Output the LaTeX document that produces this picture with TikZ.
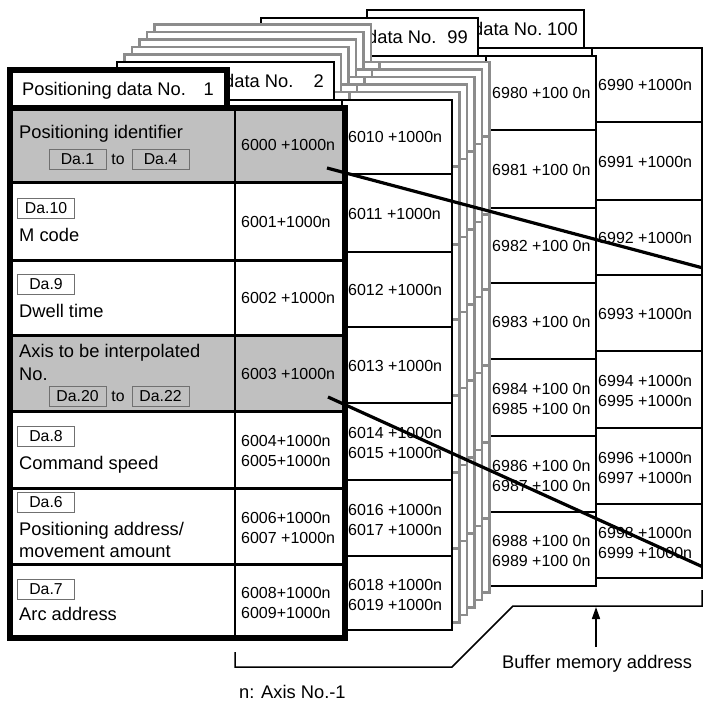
\documentclass[tikz,border=0pt]{standalone}
\usepackage{fontspec}
\setmainfont{Liberation Sans}
\usetikzlibrary{arrows.meta}
\definecolor{rowgray}{HTML}{C0C0C0}
\definecolor{sheetgray}{HTML}{8C8C8C}
\definecolor{dagray}{HTML}{707070}
\newcommand\lblf{\fontsize{18.3}{22.5}\selectfont}
\newcommand\adrf{\fontsize{16}{19.5}\selectfont}
\newcommand\daf{\fontsize{15.8}{18}\selectfont}
\tikzset{
  lbl/.style={anchor=base west, font=\lblf, inner sep=0pt},
  adr/.style={anchor=base west, font=\adrf, inner sep=0pt},
  dabox/.style={draw=dagray, line width=1pt, minimum width=57pt, minimum height=20pt, inner sep=0pt, font=\daf},
  tolbl/.style={font=\daf, inner sep=0pt},
}
% frame of one sheet, in the coordinates of sheet 1
\newcommand\sheetframe[2]{%
  \begin{scope}[draw=#1, line width=#2]
    \fill[white] (10,70) rectangle (226.5,107.5);
    \fill[white] (10,107.5) rectangle (345,638);
    \foreach \r in {182,260,335,411,488,564} \draw (10,\r) -- (345,\r);
    \draw (235,107.5) -- (235,638);
    \draw (10,70) rectangle (226.5,107.5);
    \draw (10,107.5) rectangle (345,638);
  \end{scope}}
% address column: name, base number, suffix
\newcommand\addrcol[3]{%
  \foreach \i/\c in {0/144.75,1/221,2/297.5,3/373}{%
    \pgfmathtruncatemacro\na{#2+\i}%
    \node[adr] (#1\i) at (241,\c+6) {{\na}#3};}
  \foreach \i/\c in {4/449.5,6/526,8/601}{%
    \pgfmathtruncatemacro\na{#2+\i}\pgfmathtruncatemacro\nb{#2+\i+1}%
    \node[adr] (#1\i) at (241,\c-3) {{\na}#3};
    \node[adr] (#1\i x) at (241,\c+17) {{\nb}#3};}}
\begin{document}
\begin{tikzpicture}[x=1pt, y=-1pt]
\useasboundingbox (0,0) rectangle (703,702);
\fill[white] (0,0) rectangle (703,702);

% sheet 100
\begin{scope}[shift={(357,-60)}]
  \sheetframe{black}{2pt}
  \node[lbl] (t100a) at (116,95) {data No.};
  \node[lbl] (t100b) at (190,95) {100};
  \addrcol{sD}{6990}{ +1000n}
\end{scope}

% sheet 99
\begin{scope}[shift={(251,-52)}]
  \sheetframe{black}{2pt}
  \node[lbl] (t99a) at (116,95) {data No.};
  \node[lbl, anchor=base east] (t99b) at (217,95) {99};
  \addrcol{sC}{6980}{ +100 0n}
\end{scope}

% intermediate sheets (grey)
\foreach \k in {5,4,3,2,1}{%
  \begin{scope}[shift={({107+7.5*\k},{-8-7.5*\k})}]
    \sheetframe{sheetgray}{2.2pt}
  \end{scope}}

% sheet 2
\begin{scope}[shift={(107,-8)}]
  \sheetframe{black}{2pt}
  \node[lbl] (t2a) at (117,95) {data No.};
  \node[lbl, anchor=base east] (t2b) at (217,95) {2};
  \addrcol{sB}{6010}{ +1000n}
\end{scope}

% sheet 1
\fill[white] (10,70) rectangle (226.5,107.5);
\fill[white] (10,107.5) rectangle (345,638);
\fill[rowgray] (10,107.5) rectangle (345,182);
\fill[rowgray] (10,335) rectangle (345,411);
\foreach \r in {182,260,335,411,488,564} \draw[line width=3pt] (10,\r) -- (345,\r);
\draw[line width=2pt] (235,107.5) -- (235,638);
\draw[line width=6pt] (10,70) rectangle (226.5,107.5);
\draw[line width=6pt] (10,107.5) rectangle (345,638);

\node[lbl] (t1a) at (22,95) {Positioning data No.};
\node[lbl, anchor=base east] (t1b) at (214,95) {1};

\node[lbl] (r1) at (19,138) {Positioning identifier};
\node[dabox] (da1) at (77.5,159) {Da.1};
\node[tolbl] (to1) at (118,159) {to};
\node[dabox] (da4) at (160.5,159) {Da.4};

\node[dabox] (da10) at (46,208.5) {Da.10};
\node[lbl] (r2) at (19,241) {M code};

\node[dabox] (da9) at (46,284.5) {Da.9};
\node[lbl] (r3) at (19,317) {Dwell time};

\node[lbl] (r4a) at (19,357) {Axis to be interpolated};
\node[lbl] (r4b) at (19,380) {No.};
\node[dabox] (da20) at (77.5,396.5) {Da.20};
\node[tolbl] (to2) at (118,396.5) {to};
\node[dabox] (da22) at (160.5,396.5) {Da.22};

\node[dabox] (da8) at (46,436.5) {Da.8};
\node[lbl] (r5) at (19,469) {Command speed};

\node[dabox] (da6) at (46,502.5) {Da.6};
\node[lbl] (r6a) at (19,535) {Positioning address/};
\node[lbl] (r6b) at (19,557) {movement amount};

\node[dabox] (da7) at (46,589.5) {Da.7};
\node[lbl] (r7) at (19,620) {Arc address};

\node[adr] (a0) at (241,150.75) {6000 +1000n};
\node[adr] (a1) at (241,227) {6001+1000n};
\node[adr] (a2) at (241,303.5) {6002 +1000n};
\node[adr] (a3) at (241,379) {6003 +1000n};
\node[adr] (a4) at (241,446.5) {6004+1000n};
\node[adr] (a5) at (241,466.5) {6005+1000n};
\node[adr] (a6) at (241,523) {6006+1000n};
\node[adr] (a7) at (241,543) {6007 +1000n};
\node[adr] (a8) at (241,598) {6008+1000n};
\node[adr] (a9) at (241,618) {6009+1000n};

% diagonal lines
\coordinate (d1a) at (327,168);
\coordinate (d1b) at (703,268);
\coordinate (d2a) at (328,397);
\coordinate (d2b) at (703,567);
\draw[line width=3.2pt] (d1a) -- (d1b);
\draw[line width=3.2pt] (d2a) -- (d2b);

% bracket and arrow
\coordinate (b1) at (235,652);
\coordinate (b2) at (235,667);
\coordinate (b3) at (452,667);
\coordinate (b4) at (513,606);
\coordinate (b5) at (702,606);
\coordinate (b6) at (702,590);
\draw[line width=1.5pt] (b1) -- (b2) -- (b3) -- (b4) -- (b5) -- (b6);
\coordinate (arS) at (596,647);
\coordinate (arE) at (596,607);
\draw[line width=1.6pt, -{Triangle[length=12pt,width=8pt]}] (arS) -- (arE);

\node[lbl] (bma) at (502,668) {Buffer memory address};
\node[lbl] (axn) at (239,698) {n: Axis No.-1};
\end{tikzpicture}
\end{document}
